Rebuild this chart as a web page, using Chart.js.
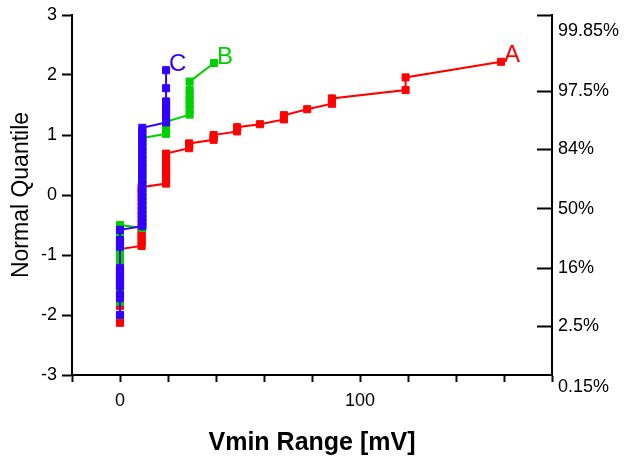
<!DOCTYPE html>
<html>
<head>
<meta charset="utf-8">
<script src="https://cdn.jsdelivr.net/npm/chart.js@4.4.1/dist/chart.umd.min.js"></script>
<style>
  html, body { margin: 0; padding: 0; background: #fff; }
  #wrap { width: 632px; height: 464px; }
</style>
</head>
<body>
<div id="wrap"><canvas id="chart" width="632" height="464"></canvas></div>
<script>
// Series A (red): Vmin range columns and the normal quantiles stacked in each
const colsA = [0, 9.0, 19.2, 28.8, 39, 48.8, 58.3, 68.3, 78, 88.3, 119, 158.8];
const quantA = [
  [-2.13, -1.85, -1.62, -1.5, -1.38, -1.27, -1.17, -1.08, -0.99, -0.9],
  [-0.85, -0.79, -0.73, -0.67, -0.61, -0.54, -0.47, -0.4, -0.33, -0.26, -0.19, -0.12, -0.05, 0.02, 0.08, 0.13],
  [0.19, 0.24, 0.29, 0.34, 0.39, 0.44, 0.49, 0.54, 0.59, 0.64, 0.69],
  [0.78, 0.82, 0.86],
  [0.92, 0.96, 1.0],
  [1.06, 1.13],
  [1.18],
  [1.26, 1.33],
  [1.43],
  [1.52, 1.61],
  [1.75, 1.96],
  [2.22]
];

// Series B (green)
const colsB = [0, 9.3, 19.2, 29, 39.2];
const quantB = [
  [-2.0, -1.78, -1.6, -1.48, -1.36, -1.25, -1.14, -1.08, -1.02, -0.96, -0.91, -0.82, -0.7, -0.64, -0.5],
  [-0.55, -0.47, -0.4, -0.32, -0.25, -0.17, -0.1, -0.02, 0.05, 0.13, 0.2, 0.28, 0.35, 0.43, 0.5, 0.58, 0.65, 0.73, 0.8, 0.88, 0.95],
  [1.02, 1.1, 1.16, 1.22],
  [1.34, 1.42, 1.5, 1.58, 1.66, 1.75, 1.89],
  [2.2]
];

// Series C (blue)
const colsC = [0, 9.3, 19.2];
const quantC = [
  [-2.0, -1.72, -1.66, -1.52, -1.46, -1.4, -1.34, -1.28, -1.22, -0.86, -0.8, -0.75, -0.58],
  [-0.52, -0.45, -0.38, -0.31, -0.24, -0.17, -0.1, -0.03, 0.04, 0.11, 0.18, 0.25, 0.32, 0.39, 0.46, 0.53, 0.6, 0.67, 0.74, 0.81, 0.88, 0.95, 1.02, 1.07, 1.12],
  [1.21, 1.28, 1.35, 1.42, 1.49, 1.56, 1.78, 2.08]
];

const seriesNames  = ['A', 'B', 'C'];
const seriesColors = ['#ff0000', '#00d000', '#3300ff'];

// right axis: probability labels at their normal quantiles
const probLabels = ['0.15%', '2.5%', '16%', '50%', '84%', '97.5%', '99.85%'];
const probZ      = [-2.97, -1.96, -0.994, 0, 0.994, 1.96, 2.97];
const probMin = -2.77, probMax = 3.23;

const FONT = "'Liberation Sans', Arial, sans-serif";
Chart.defaults.font.family = FONT;
Chart.defaults.color = '#000';

function toPoints(cols, quants) {
  const pts = [];
  cols.forEach((x, i) => quants[i].forEach(q => pts.push({ x: x, y: q })));
  return pts;
}

// letter next to the top point of each series
const endLabels = {
  id: 'endLabels',
  afterDatasetsDraw(chart) {
    const ctx = chart.ctx;
    ctx.save();
    ctx.font = '24px ' + FONT;
    ctx.textAlign = 'left';
    ctx.textBaseline = 'middle';
    chart.data.datasets.forEach((ds, i) => {
      const pts = chart.getDatasetMeta(i).data;
      const last = pts[pts.length - 1];
      ctx.fillStyle = ds.borderColor;
      ctx.fillText(ds.label, last.x + 3, last.y - 6);
    });
    ctx.restore();
  }
};

const allPoints = [toPoints(colsA, quantA), toPoints(colsB, quantB), toPoints(colsC, quantC)];

const datasets = allPoints.map((pts, i) => ({
  label: seriesNames[i],
  data: pts,
  showLine: true,
  borderColor: seriesColors[i],
  backgroundColor: seriesColors[i],
  borderWidth: 2,
  pointStyle: 'rect',
  pointRadius: 5,
  pointBorderWidth: 1,
  order: 3 - i
}));

new Chart(document.getElementById('chart').getContext('2d'), {
  type: 'scatter',
  data: { datasets },
  options: {
    responsive: false,
    animation: false,
    devicePixelRatio: 1,
    layout: { padding: { left: 8, top: 15, right: 0, bottom: 6 } },
    plugins: { legend: { display: false }, tooltip: { enabled: false } },
    scales: {
      x: {
        type: 'linear', position: 'bottom', min: -20, max: 180,
        ticks: {
          stepSize: 20, autoSkip: false, maxRotation: 0, padding: 8,
          font: { size: 18 },
          callback: v => (v === 0 || v === 100) ? String(v) : ''
        },
        grid: { drawOnChartArea: false, tickLength: 7, tickColor: '#000', tickWidth: 2 },
        border: { color: '#000', width: 2 },
        title: { display: true, text: 'Vmin Range [mV]', font: { size: 25, weight: 'bold' }, padding: 0 },
        afterFit: s => { s.height = 83; }
      },
      y: {
        type: 'linear', position: 'left', min: -3, max: 3,
        ticks: { stepSize: 1, autoSkip: false, padding: 5, font: { size: 18 } },
        grid: { drawOnChartArea: false, tickLength: 10, tickColor: '#000', tickWidth: 2 },
        border: { color: '#000', width: 2 },
        title: { display: true, text: 'Normal Quantile', font: { size: 23 }, padding: 0 },
        afterFit: s => { s.width = 64; s.paddingTop = 5; s.paddingBottom = 5; }
      },
      y2: {
        type: 'linear', position: 'right', min: probMin, max: probMax,
        afterBuildTicks: s => {
          s.ticks = probZ.map(v => ({ value: v })).concat([{ value: probMax }]);
        },
        ticks: {
          autoSkip: false, padding: 21, font: { size: 18 },
          callback: v => {
            const k = probZ.indexOf(v);
            return k < 0 ? '' : probLabels[k];
          }
        },
        grid: {
          drawOnChartArea: false, tickLength: -15, tickWidth: 2,
          tickColor: c => (c.tick && Math.abs(c.tick.value) > 2.9 && c.tick.value !== probMax) ? 'rgba(0,0,0,0)' : '#000'
        },
        border: { color: '#000', width: 2 },
        afterFit: s => { s.width = 80; s.paddingTop = 5; s.paddingBottom = 5; }
      }
    }
  },
  plugins: [endLabels]
});
</script>
</body>
</html>
